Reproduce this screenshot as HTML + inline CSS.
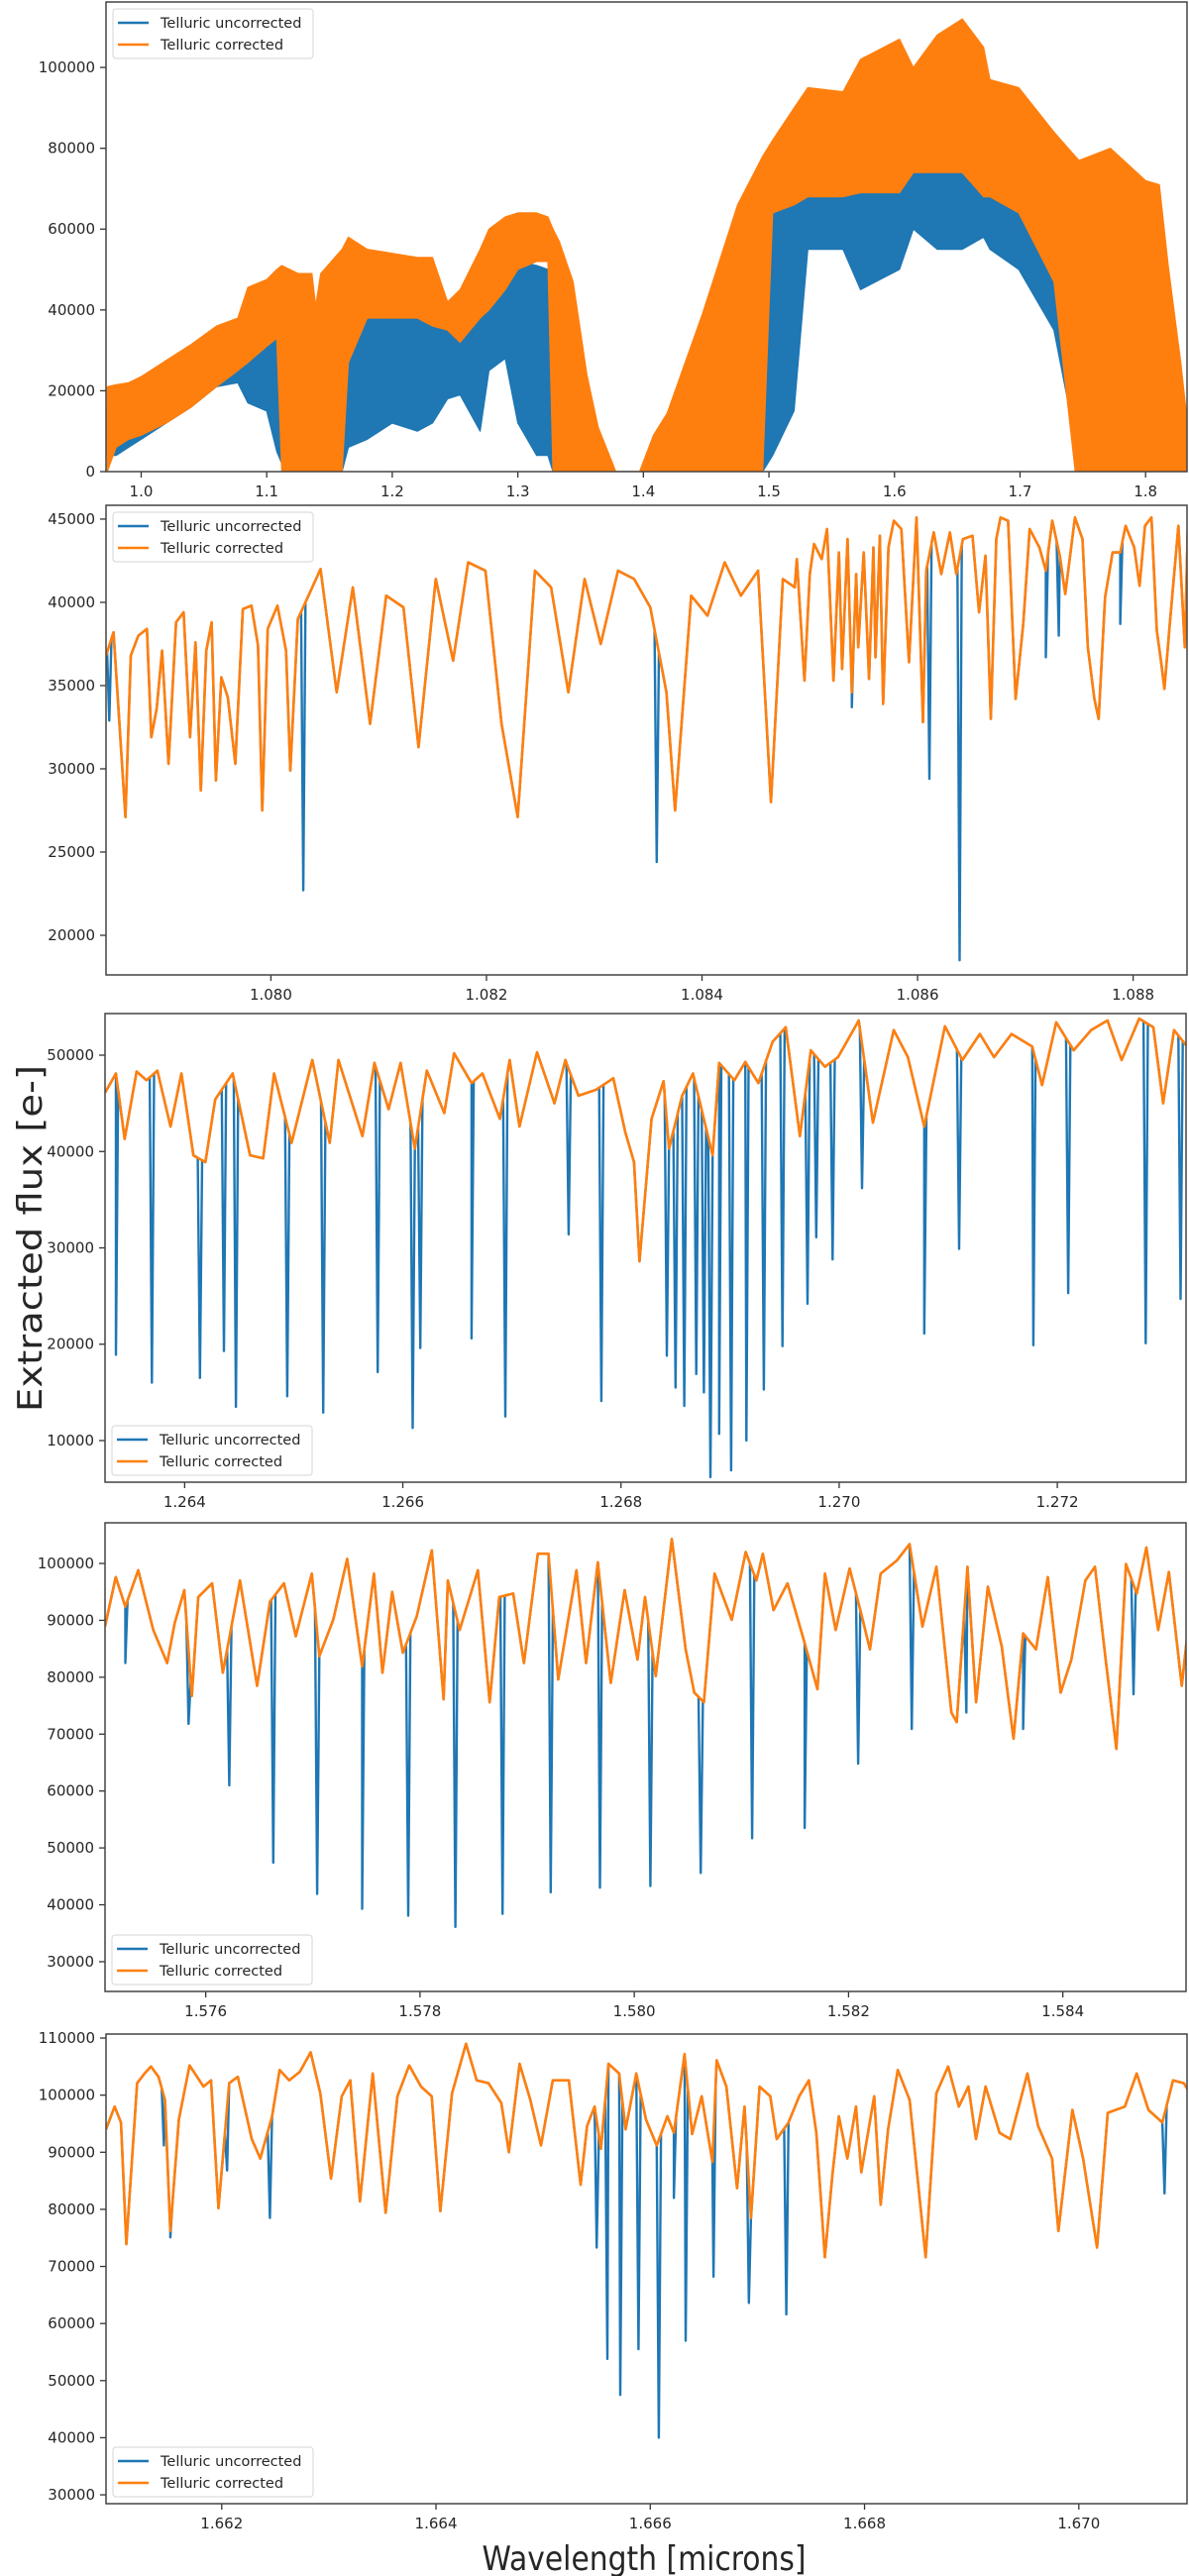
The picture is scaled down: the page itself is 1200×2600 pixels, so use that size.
<!DOCTYPE html>
<html><head><meta charset="utf-8"><title>Telluric correction spectra</title>
<style>
html,body{margin:0;padding:0;background:#fff;}
svg{display:block;}
text{font-family:"DejaVu Sans","Liberation Sans",sans-serif;fill:#262626;}
</style></head>
<body>
<svg id="fig" width="1200" height="2600" viewBox="0 0 1200 2600" xmlns="http://www.w3.org/2000/svg">
<text x="0" y="0" transform="translate(42,1250) rotate(-90)" text-anchor="middle" font-size="34" textLength="350" lengthAdjust="spacingAndGlyphs">Extracted flux [e-]</text>
<text x="650" y="2594" text-anchor="middle" font-size="34" textLength="327" lengthAdjust="spacingAndGlyphs">Wavelength [microns]</text>
</svg>
<script>
// ---------- Panel 1 (full range) : envelope data, flux in thousands of e- ----------
const p1Wave = [0.973,0.98,0.99,1.0,1.02,1.04,1.06,1.077,1.085,1.1,1.108,1.112,1.125,1.136,1.139,1.143,1.16,1.165,1.18,1.2,1.22,1.232,1.244,1.254,1.27,1.277,1.29,1.30,1.315,1.324,1.328,1.333,1.344,1.355,1.364,1.378,1.397,1.408,1.419,1.447,1.475,1.495,1.503,1.52,1.531,1.559,1.573,1.604,1.615,1.634,1.654,1.671,1.676,1.699,1.727,1.744,1.747,1.772,1.80,1.811,1.818,1.828,1.834];
const p1CorrTop = [21,21.5,22,23.5,27.5,31.5,36,38,45.6,47.5,50,51,49,49,41,49,55,58,55,54,53,53,42,45,55,60,63,64,64,63,60,57,47,24,11,0,0,9,14.5,39,66,78,82,90,95,94,102,107,100,108,112,105,97,95,84,78,77,80,72,71,51,27,10];
const p1CorrBot = [0,6,8,9,12,16,21,25,27,31,33,0,0,0,0,0,0,27,38,38,38,36,35,32,38,40,45,50,52,52,0,0,0,0,0,0,0,0,0,0,0,0,64,66,68,68,69,69,74,74,74,68,68,64,47,0,0,0,0,0,0,0,0];
const p1UncTop = [16,16,16,20,23,27,31,33,34,34,34,10,0,0,0,0,0,43,43,43,43,43,40,40,45,48,52,52,51,50,40,35,25,10,0,0,0,0,0,0,0,60,75,78,78,78,78,80,80,80,80,78,78,75,65,50,40,30,10,5,0,0,0];
const p1UncBot = [4,4,6,8,12,16,21,22,17,15,5,2,0,0,0,0,0,6,8,12,10,12,18,19,10,25,28,12,4,4,0,0,0,0,0,0,0,0,0,0,0,0,4,15,55,55,45,50,60,55,55,58,55,50,35,8,0,0,0,0,0,0,0];
const p1XTicks = [1.0,1.1,1.2,1.3,1.4,1.5,1.6,1.7,1.8];
const p1XLabels = ["1.0","1.1","1.2","1.3","1.4","1.5","1.6","1.7","1.8"];
const p1YTicks = [0,20,40,60,80,100];
const p1YLabels = ["0","20000","40000","60000","80000","100000"];

// ---------- Panel 2 (1.078 - 1.089 microns) ----------
const p2Wave = [1.07847,1.07854,1.07865,1.07870,1.07877,1.07885,1.07889,1.07894,1.07899,1.07905,1.07912,1.07919,1.07925,1.07930,1.07935,1.07940,1.07945,1.07949,1.07954,1.07960,1.07967,1.07974,1.07982,1.07988,1.07992,1.07997,1.08006,1.08014,1.08018,1.08025,1.08046,1.08061,1.08076,1.08092,1.08107,1.08123,1.08137,1.08153,1.08169,1.08183,1.08199,1.08214,1.08229,1.08245,1.08260,1.08276,1.08291,1.08306,1.08322,1.08337,1.08352,1.08367,1.08375,1.08390,1.08405,1.08421,1.08436,1.08452,1.08464,1.08475,1.08486,1.08488,1.08495,1.08500,1.08504,1.08511,1.08516,1.08522,1.08527,1.08530,1.08535,1.08539,1.08543,1.08545,1.08550,1.08555,1.08559,1.08561,1.08565,1.08568,1.08573,1.08578,1.08585,1.08592,1.08599,1.08605,1.08608,1.08615,1.08622,1.08630,1.08636,1.08642,1.08651,1.08657,1.08663,1.08668,1.08673,1.08677,1.08684,1.08691,1.08698,1.08704,1.08713,1.08719,1.08725,1.08732,1.08737,1.08746,1.08753,1.08758,1.08764,1.08768,1.08774,1.08781,1.08788,1.08793,1.08801,1.08806,1.08811,1.08817,1.08822,1.08826,1.08829,1.08834,1.08842,1.08848,1.08851];
const p2Corr = [36.8,38.2,27.1,36.8,38.0,38.4,31.9,33.6,37.1,30.3,38.8,39.4,31.9,37.6,28.7,37.1,38.8,29.3,35.5,34.3,30.3,39.6,39.8,37.4,27.5,38.4,39.8,37.1,29.9,39.0,42.0,34.6,40.9,32.7,40.4,39.7,31.3,41.4,36.5,42.4,41.9,32.7,27.1,41.9,40.9,34.6,41.4,37.5,41.9,41.4,39.7,34.6,27.5,40.4,39.2,42.4,40.4,41.9,28.0,41.4,40.9,42.6,35.3,41.7,43.5,42.6,44.4,35.3,43.0,36.0,43.8,34.6,41.7,37.3,43.0,35.4,43.3,36.7,44.0,33.9,43.3,44.9,44.4,36.4,45.1,32.8,41.9,44.2,41.7,44.2,41.7,43.8,44.0,39.4,42.8,33.0,43.8,45.1,44.9,34.2,38.7,44.4,43.3,41.9,44.9,42.8,40.5,45.1,43.8,37.3,34.2,33.0,40.3,43.0,43.0,44.6,43.3,41.0,44.6,45.1,38.3,36.4,34.8,38.7,44.6,37.3,45.3];
const p2DipWave = [1.07850,1.08030,1.08358,1.08539,1.08611,1.08639,1.08719,1.08731,1.08788];
const p2DipFlux = [32.9,22.7,24.4,33.7,29.4,18.5,36.7,38.0,38.7];
const p2XTicks = [1.080,1.082,1.084,1.086,1.088];
const p2XLabels = ["1.080","1.082","1.084","1.086","1.088"];
const p2YTicks = [20,25,30,35,40,45];
const p2YLabels = ["20000","25000","30000","35000","40000","45000"];

// ---------- Panel 3 (1.263 - 1.273 microns) ----------
const p3Wave = [1.26327,1.26337,1.26345,1.26356,1.26365,1.26375,1.26387,1.26397,1.26408,1.26419,1.26428,1.26444,1.26460,1.26472,1.26482,1.26498,1.26517,1.26533,1.26541,1.26563,1.26574,1.26587,1.26598,1.26611,1.26622,1.26638,1.26647,1.26663,1.26673,1.26689,1.26698,1.26707,1.26723,1.26739,1.26749,1.26761,1.26777,1.26793,1.26804,1.26812,1.26817,1.26828,1.26839,1.26844,1.26856,1.26866,1.26884,1.26890,1.26904,1.26914,1.26926,1.26939,1.26951,1.26964,1.26974,1.26987,1.26999,1.27018,1.27031,1.27050,1.27063,1.27078,1.27097,1.27113,1.27129,1.27142,1.27158,1.27177,1.27186,1.27199,1.27215,1.27231,1.27246,1.27259,1.27275,1.27288,1.27297,1.27307,1.27319];
const p3Corr = [46.1,48.1,41.3,48.3,47.4,48.4,42.6,48.1,39.6,38.9,45.4,48.1,39.6,39.3,48.1,40.9,49.5,40.9,49.5,41.6,49.2,44.4,49.2,40.3,48.4,44.0,50.2,47.1,48.1,43.4,49.5,42.6,50.3,45.0,49.5,45.8,46.4,47.6,42.0,38.9,28.6,43.4,47.3,40.3,45.8,48.1,39.6,49.2,47.4,49.3,47.1,51.4,52.9,41.6,50.5,48.8,49.8,53.6,43.0,52.6,49.8,42.6,53.0,49.5,52.2,49.8,52.2,50.9,46.9,53.4,50.5,52.6,53.6,49.5,53.8,52.9,45.0,52.6,50.9];
const p3DipWave = [1.26337,1.26370,1.26414,1.26436,1.26447,1.26494,1.26527,1.26577,1.26609,1.26616,1.26663,1.26694,1.26752,1.26782,1.26842,1.26850,1.26858,1.26869,1.26876,1.26882,1.26890,1.26901,1.26915,1.26931,1.26948,1.26971,1.26979,1.26994,1.27021,1.27078,1.27110,1.27178,1.27210,1.27281,1.27313];
const p3DipFlux = [18.9,16.0,16.5,19.3,13.5,14.6,12.9,17.1,11.3,19.6,20.6,12.5,31.4,14.1,18.8,15.5,13.6,16.9,15.0,6.2,10.7,6.9,10.0,15.3,19.8,24.2,31.1,28.8,36.2,21.1,29.9,19.9,25.3,20.1,24.7];
const p3XTicks = [1.264,1.266,1.268,1.270,1.272];
const p3XLabels = ["1.264","1.266","1.268","1.270","1.272"];
const p3YTicks = [10,20,30,40,50];
const p3YLabels = ["10000","20000","30000","40000","50000"];

// ---------- Panel 4 (1.575 - 1.585 microns) ----------
const p4Wave = [1.57506,1.57516,1.57525,1.57537,1.57551,1.57564,1.57571,1.57580,1.57587,1.57593,1.57606,1.57616,1.57632,1.57648,1.57660,1.57673,1.57684,1.57699,1.57706,1.57719,1.57732,1.57746,1.57757,1.57765,1.57774,1.57784,1.57797,1.57811,1.57822,1.57826,1.57837,1.57854,1.57865,1.57874,1.57887,1.57897,1.57910,1.57920,1.57929,1.57946,1.57955,1.57966,1.57978,1.57991,1.58003,1.58010,1.58020,1.58035,1.58048,1.58056,1.58065,1.58075,1.58091,1.58104,1.58114,1.58120,1.58130,1.58143,1.58159,1.58171,1.58178,1.58188,1.58201,1.58211,1.58220,1.58230,1.58245,1.58257,1.58269,1.58282,1.58296,1.58301,1.58311,1.58319,1.58330,1.58343,1.58354,1.58363,1.58375,1.58386,1.58398,1.58408,1.58421,1.58430,1.58440,1.58450,1.58459,1.58469,1.58478,1.58489,1.58499,1.58511,1.58517];
const p4Corr = [88.9,97.6,92.4,98.8,88.3,82.5,89.5,95.3,76.7,94.1,96.5,80.8,97.0,78.5,93.3,96.5,87.2,98.2,83.7,90.1,100.8,81.9,98.2,80.8,95.0,84.3,90.7,102.3,76.1,97.0,88.3,98.8,75.6,94.1,94.7,82.5,101.7,101.7,79.6,98.8,82.5,100.2,79.0,95.3,83.1,94.1,80.2,104.3,84.9,77.3,75.6,98.2,90.1,102.0,97.0,101.7,91.8,96.5,86.0,77.9,98.2,88.3,99.1,91.8,84.9,98.2,100.5,103.4,88.9,99.4,73.8,72.1,99.4,75.6,95.9,85.4,69.2,87.7,84.9,97.6,77.3,83.1,97.0,99.4,83.1,67.4,99.9,94.7,102.8,88.3,98.5,78.5,88.9];
const p4DipWave = [1.57525,1.57584,1.57622,1.57663,1.57704,1.57746,1.57789,1.57833,1.57877,1.57922,1.57968,1.58015,1.58062,1.58110,1.58159,1.58209,1.58259,1.58310,1.58363,1.58466];
const p4DipFlux = [82.5,71.8,61.0,47.4,41.9,39.3,38.1,36.1,38.4,42.2,43.0,43.3,45.6,51.7,53.5,64.8,70.9,73.8,70.9,77.0];
const p4XTicks = [1.576,1.578,1.580,1.582,1.584];
const p4XLabels = ["1.576","1.578","1.580","1.582","1.584"];
const p4YTicks = [30,40,50,60,70,80,90,100];
const p4YLabels = ["30000","40000","50000","60000","70000","80000","90000","100000"];

// ---------- Panel 5 (1.661 - 1.671 microns) ----------
const p5Wave = [1.66092,1.66100,1.66106,1.66111,1.66121,1.66128,1.66134,1.66141,1.66147,1.66152,1.66160,1.66170,1.66183,1.66190,1.66197,1.66207,1.66215,1.66228,1.66236,1.66247,1.66254,1.66263,1.66273,1.66283,1.66292,1.66302,1.66312,1.66320,1.66329,1.66341,1.66353,1.66364,1.66375,1.66386,1.66396,1.66404,1.66415,1.66428,1.66438,1.66449,1.66461,1.66468,1.66478,1.66488,1.66498,1.66509,1.66524,1.66535,1.66541,1.66548,1.66554,1.66561,1.66571,1.66577,1.66587,1.66596,1.66606,1.66616,1.66622,1.66632,1.66639,1.66648,1.66658,1.66662,1.66671,1.66681,1.66688,1.66694,1.66702,1.66712,1.66718,1.66729,1.66739,1.66748,1.66755,1.66763,1.66770,1.66776,1.66784,1.66792,1.66797,1.66809,1.66815,1.66822,1.66831,1.66842,1.66857,1.66867,1.66878,1.66888,1.66897,1.66904,1.66913,1.66926,1.66936,1.66952,1.66962,1.66975,1.66981,1.66994,1.67004,1.67017,1.67027,1.67043,1.67054,1.67065,1.67078,1.67088,1.67098,1.67104];
const p5Corr = [94.0,98.0,95.2,73.9,102.1,103.8,105.0,103.2,99.2,76.2,95.7,105.2,101.5,102.6,80.2,102.1,103.2,92.3,88.9,96.3,104.4,102.6,104.1,107.5,100.3,85.4,99.8,102.6,81.4,103.8,79.4,99.8,105.2,101.5,99.8,79.7,100.3,109.0,102.6,102.1,98.6,90.0,105.5,99.2,91.2,102.6,102.6,84.3,94.6,98.0,90.6,105.5,103.8,94.0,103.8,95.7,91.2,96.3,93.4,107.2,93.2,99.8,88.3,106.1,101.5,83.7,98.0,78.5,101.5,99.8,92.3,95.2,99.8,102.6,93.4,71.6,86.0,96.3,88.9,98.0,86.5,99.8,80.8,94.0,104.4,99.2,71.6,100.3,105.0,98.0,101.5,92.3,101.5,93.4,92.3,103.8,94.6,88.9,76.2,97.4,88.9,73.3,96.9,98.0,103.8,97.4,95.2,102.6,102.1,100.3];
const p5DipWave = [1.66146,1.66152,1.66205,1.66245,1.66550,1.66560,1.66572,1.66589,1.66608,1.66622,1.66633,1.66659,1.66692,1.66727,1.67080];
const p5DipFlux = [91.2,75.1,86.8,78.5,73.3,53.8,47.5,55.5,40.0,82.0,57.0,68.2,63.6,61.6,82.8];
const p5XTicks = [1.662,1.664,1.666,1.668,1.670];
const p5XLabels = ["1.662","1.664","1.666","1.668","1.670"];
const p5YTicks = [30,40,50,60,70,80,90,100,110];
const p5YLabels = ["30000","40000","50000","60000","70000","80000","90000","100000","110000"];

// ---------- drawing ----------
const NS = "http://www.w3.org/2000/svg";
const svg = document.getElementById("fig");
const BLUE = "#1f77b4", ORANGE = "#ff7f0e";

function mk(tag, attrs, parent) {
  const el = document.createElementNS(NS, tag);
  for (const k in attrs) el.setAttribute(k, attrs[k]);
  (parent || svg).appendChild(el);
  return el;
}
function makeAxes(cfg) {
  const sx = v => cfg.left + (v - cfg.xmin) / (cfg.xmax - cfg.xmin) * (cfg.right - cfg.left);
  const sy = v => cfg.bottom - (v - cfg.ymin) / (cfg.ymax - cfg.ymin) * (cfg.bottom - cfg.top);
  return {sx, sy};
}
function drawFrame(cfg, id, ax, xT, xL, yT, yL) {
  const g = mk("g", {});
  
  
  for (let i = 0; i < xT.length; i++) {
    const x = ax.sx(xT[i]);
    const t = mk("line", {x1:x, x2:x, y1:cfg.bottom, y2:cfg.bottom+6, stroke:"#333", "stroke-width":1.3}, g);
    
    
    const lb = mk("text", {x:x, y:cfg.bottom+25, "text-anchor":"middle", "font-size":15}, g);
    lb.textContent = xL[i];
    
    
  }
  for (let i = 0; i < yT.length; i++) {
    const y = ax.sy(yT[i]);
    const t = mk("line", {x1:cfg.left-6, x2:cfg.left, y1:y, y2:y, stroke:"#333", "stroke-width":1.3}, g);
    
    
    const lb = mk("text", {x:cfg.left-11, y:y+5, "text-anchor":"end", "font-size":15}, g);
    lb.textContent = yL[i];
    
    
  }
  const r = mk("rect", {x:cfg.left, y:cfg.top, width:cfg.right-cfg.left, height:cfg.bottom-cfg.top, fill:"none", stroke:"#444", "stroke-width":1.5});
  
  
}
function makeClip(cfg, id) {
  const defs = mk("defs", {});
  const cp = mk("clipPath", {id: id + "-clip"}, defs);
  mk("rect", {x:cfg.left, y:cfg.top, width:cfg.right-cfg.left, height:cfg.bottom-cfg.top}, cp);
  const g = mk("g", {"clip-path": "url(#" + id + "-clip)"});
  
  
  return g;
}
function drawLegend(cfg, id, atBottom) {
  const w = 202, h = 50;
  const x0 = cfg.left + 7;
  const y0 = atBottom ? cfg.bottom - 7 - h : cfg.top + 7;
  const g = mk("g", {});
  
  
  mk("rect", {x:x0, y:y0, width:w, height:h, rx:3, fill:"#fff", "fill-opacity":0.85, stroke:"#d6d6d6", "stroke-width":1}, g);
  const entries = [["Telluric uncorrected", BLUE], ["Telluric corrected", ORANGE]];
  entries.forEach((e, i) => {
    const y = y0 + 14 + i * 22;
    const ln = mk("line", {x1:x0+5, x2:x0+36, y1:y, y2:y, stroke:e[1], "stroke-width":2.5}, g);
    
    
    const tx = mk("text", {x:x0+48, y:y+5, "font-size":14.5}, g);
    tx.textContent = e[0];
    
    
  });
}

// Panel 1 — envelope bands
(function () {
  const cfg = {left:107, right:1198, top:2, bottom:476, xmin:0.972, xmax:1.833, ymin:0, ymax:116.2};
  const ax = makeAxes(cfg);
  const g = makeClip(cfg, "panel1");
  function band(top, bot, color, name) {
    let d = "";
    for (let i = 0; i < p1Wave.length; i++) d += (i ? "L" : "M") + ax.sx(p1Wave[i]).toFixed(1) + "," + ax.sy(top[i]).toFixed(1);
    for (let i = p1Wave.length - 1; i >= 0; i--) d += "L" + ax.sx(p1Wave[i]).toFixed(1) + "," + ax.sy(bot[i]).toFixed(1);
    const p = mk("path", {d: d + "Z", fill: color, stroke: color, "stroke-width": 1.2, "stroke-linejoin": "round"}, g);
    
    
  }
  band(p1UncTop, p1UncBot, BLUE, "uncorrected-spectrum-band");
  band(p1CorrTop, p1CorrBot, ORANGE, "corrected-spectrum-band");
  drawFrame(cfg, "panel1", ax, p1XTicks, p1XLabels, p1YTicks, p1YLabels);
  drawLegend(cfg, "panel1", false);
})();

// Panels 2-5 — line spectra
function linePanel(id, cfg, wave, corr, dipW, dipF, xT, xL, yT, yL, legendBottom) {
  const ax = makeAxes(cfg);
  const g = makeClip(cfg, id);
  const opts = wave.map((w, i) => [ax.sx(w), ax.sy(corr[i])]);
  function interpY(x) {
    for (let i = 1; i < opts.length; i++) {
      if (opts[i][0] >= x) {
        const a = opts[i-1], b = opts[i];
        const t = (x - a[0]) / ((b[0] - a[0]) || 1);
        return a[1] + t * (b[1] - a[1]);
      }
    }
    return opts[opts.length-1][1];
  }
  const bpts = opts.slice();
  for (let k = 0; k < dipW.length; k++) {
    const x = ax.sx(dipW[k]);
    bpts.push([x - 2.2, interpY(x - 2.2)]);
    bpts.push([x, ax.sy(dipF[k])]);
    bpts.push([x + 2.2, interpY(x + 2.2)]);
  }
  bpts.sort((a, b) => a[0] - b[0]);
  const toD = pts => pts.map((p, i) => (i ? "L" : "M") + p[0].toFixed(1) + "," + p[1].toFixed(1)).join("");
  const bl = mk("path", {d: toD(bpts), fill:"none", stroke:BLUE, "stroke-width":2.4, "stroke-linejoin":"round"}, g);
  
  
  const ol = mk("path", {d: toD(opts), fill:"none", stroke:ORANGE, "stroke-width":2.6, "stroke-linejoin":"round"}, g);
  
  
  drawFrame(cfg, id, ax, xT, xL, yT, yL);
  drawLegend(cfg, id, legendBottom);
}
linePanel("panel2", {left:107, right:1198, top:510, bottom:984, xmin:1.07847, xmax:1.0885, ymin:17.62, ymax:45.83}, p2Wave, p2Corr, p2DipWave, p2DipFlux, p2XTicks, p2XLabels, p2YTicks, p2YLabels, false);
linePanel("panel3", {left:106, right:1197, top:1023, bottom:1496, xmin:1.26327, xmax:1.27318, ymin:5.68, ymax:54.32}, p3Wave, p3Corr, p3DipWave, p3DipFlux, p3XTicks, p3XLabels, p3YTicks, p3YLabels, true);
linePanel("panel4", {left:106, right:1197, top:1537, bottom:2010, xmin:1.57506, xmax:1.58515, ymin:24.77, ymax:107.14}, p4Wave, p4Corr, p4DipWave, p4DipFlux, p4XTicks, p4XLabels, p4YTicks, p4YLabels, true);
linePanel("panel5", {left:107, right:1198, top:2053, bottom:2527, xmin:1.66092, xmax:1.67101, ymin:28.45, ymax:110.7}, p5Wave, p5Corr, p5DipWave, p5DipFlux, p5XTicks, p5XLabels, p5YTicks, p5YLabels, true);
</script>
</body></html>
